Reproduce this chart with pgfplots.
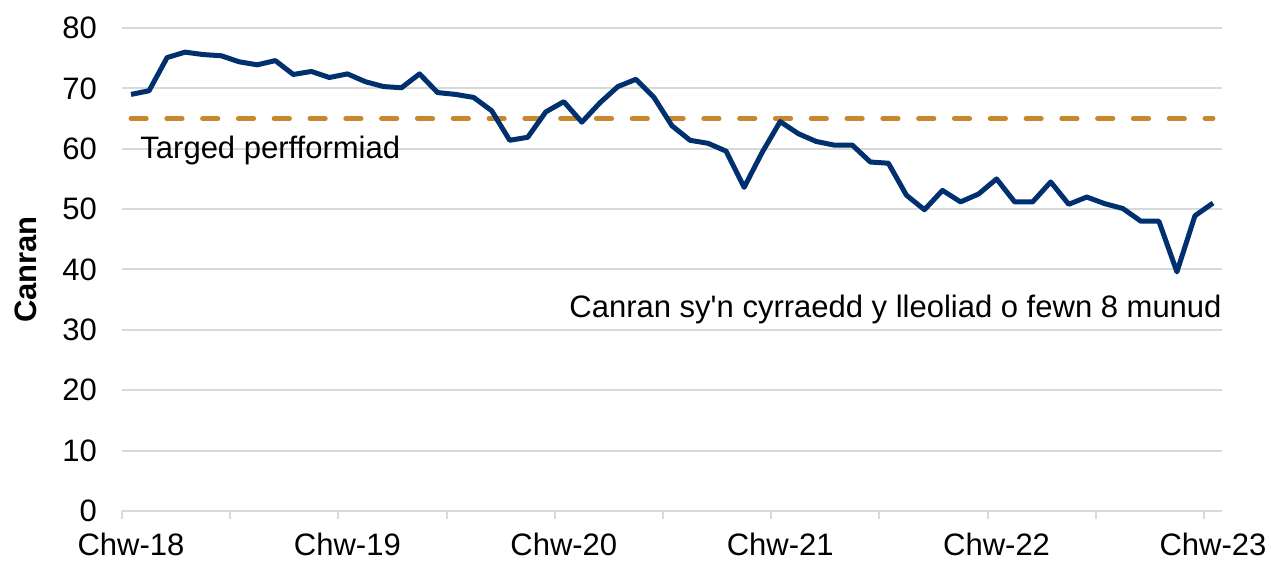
\documentclass[border=0pt]{standalone}
\usepackage{pgfplots}
\pgfplotsset{compat=1.18}
\usepackage{fontspec}
\setmainfont{Liberation Sans}
\definecolor{navy}{RGB}{0,48,110}
\definecolor{gold}{RGB}{200,135,45}
\definecolor{gridc}{RGB}{217,217,217}
\begin{document}
\begin{tikzpicture}
\begin{axis}[
  scale only axis,
  width=550pt, height=241.5pt,
  xmin=-0.5, xmax=60.5, ymin=0, ymax=80,
  axis x line*=bottom, axis y line*=left,
  y axis line style={draw=none},
  x axis line style={gridc, line width=1pt},
  xtick={0,12,24,36,48,60},
  xticklabels={Chw-18,Chw-19,Chw-20,Chw-21,Chw-22,Chw-23},
  minor xtick={-0.5,5.5,11.5,17.5,23.5,29.5,35.5,41.5,47.5,53.5,59.5},
  ytick={0,10,...,80},
  major tick length=0pt, minor tick length=4pt,
  tick align=outside,
  minor x tick style={gridc, line width=1pt},
  ymajorgrids, major grid style={gridc, line width=1pt},
  ticklabel style={font=\fontsize{15.5}{18}\selectfont},
  /pgf/number format/assume math mode=true,
  yticklabel style={xshift=-9pt},
  xticklabel style={inner sep=0pt, anchor=north, yshift=-11pt},
  ylabel={\textbf{Canran}},
  ylabel style={font=\fontsize{15.5}{18}\selectfont, yshift=6pt},
  clip=false,
]
\addplot[gold, line width=2.5pt, line cap=round, dash pattern=on 7.6pt off 10.3pt] coordinates {(0,65) (60,65)};
\addplot[navy, line width=2.5pt, line join=round, no marks] coordinates {
(0,69.0)(1,69.6)(2,75.1)(3,76.0)(4,75.6)(5,75.4)(6,74.4)(7,73.9)(8,74.6)(9,72.3)
(10,72.8)(11,71.8)(12,72.4)(13,71.1)(14,70.3)(15,70.1)(16,72.4)(17,69.3)(18,69.0)(19,68.5)
(20,66.3)(21,61.4)(22,61.9)(23,66.1)(24,67.8)(25,64.4)(26,67.6)(27,70.3)(28,71.5)(29,68.5)
(30,63.8)(31,61.4)(32,60.9)(33,59.6)(34,53.6)(35,59.4)(36,64.5)(37,62.5)(38,61.2)(39,60.6)
(40,60.6)(41,57.8)(42,57.6)(43,52.3)(44,49.9)(45,53.1)(46,51.2)(47,52.5)(48,55.0)(49,51.2)
(50,51.2)(51,54.5)(52,50.8)(53,52.0)(54,50.9)(55,50.1)(56,48.0)(57,48.0)(58,39.6)(59,48.9)
(60,51.0)};
\node[anchor=base west, inner sep=0pt, font=\fontsize{15.5}{18}\selectfont] at (axis cs:0.5,58.4) {Targed perfformiad};
\node[anchor=base east, inner sep=0pt, font=\fontsize{15.5}{18}\selectfont] at (axis cs:60.5,32.0) {Canran sy\textquotesingle n cyrraedd y lleoliad o fewn 8 munud};
\end{axis}
\pgfresetboundingbox
\path[use as bounding box] ([shift={(-61pt,-25.5pt)}]current axis.south west) rectangle ([shift={(24.5pt,14pt)}]current axis.north east);
\end{tikzpicture}
\end{document}
